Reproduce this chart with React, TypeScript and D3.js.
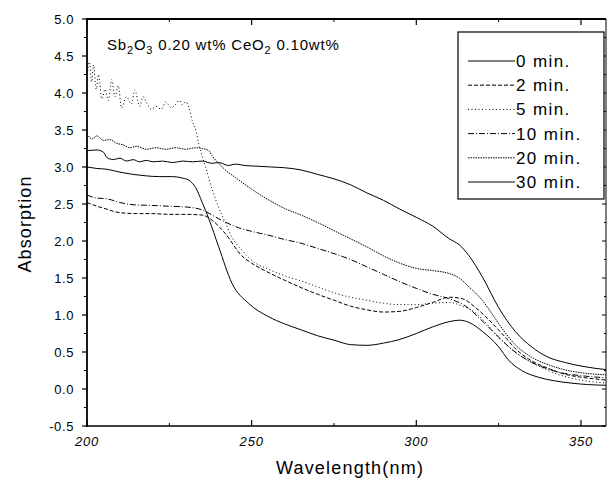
import React from "react";
import * as d3 from "d3";

// --- data (wavelength nm, absorption) ---
const min0: [number, number][] = [
  [200, 3.0], [203, 2.98], [206, 2.97], [210, 2.93], [214, 2.9], [218, 2.88], [222, 2.87],
  [226, 2.87], [229, 2.85], [231, 2.82], [233, 2.72], [235, 2.52], [237, 2.3], [240, 1.92],
  [244, 1.43], [249, 1.16], [255, 0.98], [260, 0.88], [265, 0.8], [270, 0.72], [275, 0.66],
  [280, 0.6], [285, 0.59], [290, 0.62], [295, 0.67], [300, 0.75], [305, 0.84], [310, 0.91],
  [313, 0.93], [316, 0.9], [320, 0.78], [325, 0.57], [328, 0.39], [332, 0.25], [337, 0.16],
  [342, 0.11], [347, 0.08], [352, 0.06], [358, 0.05],
];
const min2: [number, number][] = [
  [200, 2.52], [203, 2.47], [206, 2.43], [209, 2.39], [215, 2.37], [220, 2.37], [225, 2.36],
  [230, 2.36], [235, 2.35], [238, 2.28], [242, 2.1], [247, 1.8], [250, 1.7], [254, 1.6],
  [260, 1.47], [265, 1.37], [270, 1.28], [275, 1.2], [280, 1.12], [285, 1.07], [290, 1.04],
  [295, 1.05], [300, 1.1], [305, 1.17], [310, 1.24], [314, 1.22], [318, 1.1], [323, 0.89],
  [327, 0.7], [330, 0.55], [335, 0.38], [340, 0.28], [345, 0.2], [350, 0.16], [358, 0.12],
];
const min5: [number, number][] = [
  [200, 4.2], [200.7, 4.42], [201.4, 4.15], [202, 4.38], [202.8, 4.05], [203.5, 4.25],
  [204.5, 3.92], [205.5, 4.05], [206.5, 3.9], [207.5, 4.18], [208.5, 3.95], [209.5, 4.1],
  [210.5, 3.8], [212, 3.95], [213.5, 3.85], [214.5, 4.04], [216, 3.82], [217, 3.95],
  [218, 3.88], [219.5, 3.78], [221, 3.82], [222.5, 3.78], [224, 3.88], [225.5, 3.8],
  [227, 3.85], [228, 3.9], [229, 3.84], [230, 3.88], [231, 3.8], [232, 3.62], [233, 3.5],
  [234, 3.3], [236, 3.0], [238, 2.7], [240, 2.45], [242, 2.25], [244, 2.05], [247, 1.88],
  [250, 1.74], [255, 1.62], [260, 1.53], [265, 1.46], [270, 1.38], [275, 1.3], [280, 1.24],
  [285, 1.2], [290, 1.16], [295, 1.14], [300, 1.14], [305, 1.16], [310, 1.17], [314, 1.12],
  [318, 1.03], [322, 0.85], [325, 0.7], [330, 0.5], [335, 0.36], [340, 0.25], [345, 0.17],
  [350, 0.12], [358, 0.08],
];
const min10: [number, number][] = [
  [200, 2.62], [203, 2.58], [206, 2.57], [210, 2.52], [214, 2.49], [220, 2.48], [225, 2.47],
  [230, 2.46], [235, 2.42], [240, 2.3], [246, 2.18], [250, 2.13], [255, 2.08], [260, 2.02],
  [265, 1.97], [270, 1.9], [275, 1.83], [280, 1.75], [285, 1.65], [290, 1.55], [295, 1.45],
  [300, 1.36], [305, 1.28], [310, 1.22], [315, 1.12], [320, 0.92], [325, 0.7], [330, 0.5],
  [335, 0.36], [340, 0.27], [345, 0.21], [350, 0.18], [358, 0.15],
];
const min20: [number, number][] = [
  [200, 3.45], [201.5, 3.38], [203, 3.42], [205, 3.36], [207, 3.37], [209, 3.32], [211, 3.3],
  [213, 3.26], [215, 3.28], [218, 3.24], [221, 3.26], [224, 3.24], [227, 3.26], [230, 3.24],
  [233, 3.26], [235, 3.25], [237, 3.22], [238, 3.15], [240, 3.05], [242, 2.96], [245, 2.86],
  [250, 2.7], [255, 2.56], [260, 2.44], [265, 2.35], [270, 2.25], [275, 2.14], [280, 2.03],
  [285, 1.92], [290, 1.8], [295, 1.7], [300, 1.63], [305, 1.6], [310, 1.56], [313, 1.5],
  [316, 1.38], [320, 1.2], [324, 0.95], [327, 0.76], [330, 0.6], [335, 0.43], [340, 0.33],
  [345, 0.26], [350, 0.22], [358, 0.19],
];
const min30: [number, number][] = [
  [200, 3.22], [203, 3.23], [205, 3.2], [206, 3.13], [208, 3.1], [210, 3.12], [212, 3.08],
  [214, 3.1], [216, 3.07], [218, 3.09], [220, 3.07], [223, 3.08], [226, 3.06], [229, 3.08],
  [232, 3.07], [235, 3.08], [238, 3.05], [240, 3.06], [243, 3.02], [245, 3.04], [248, 3.02],
  [252, 3.01], [256, 3.0], [260, 2.99], [265, 2.96], [270, 2.9], [275, 2.84], [280, 2.76],
  [285, 2.65], [290, 2.55], [295, 2.43], [300, 2.32], [305, 2.2], [310, 2.03], [313, 1.95],
  [316, 1.8], [320, 1.52], [325, 1.1], [330, 0.78], [335, 0.57], [340, 0.43], [345, 0.36],
  [350, 0.31], [358, 0.26],
];

const seriesNames = ["0 min.", "2 min.", "5 min.", "10 min.", "20 min.", "30 min."];
const seriesData = [min0, min2, min5, min10, min20, min30];
const seriesDash = ["", "4,2", "1,2.5", "6,2,1,2", "1.5,1", ""];

const xTicks = [200, 250, 300, 350];
const xMinor = [225, 275, 325];
const yTicks = [-0.5, 0, 0.5, 1, 1.5, 2, 2.5, 3, 3.5, 4, 4.5, 5];

const W = 607;
const H = 479;
const L = 87;
const R = 606;
const T = 19;
const B = 426;
const font = "'Liberation Sans', Arial, sans-serif";

export default function App() {
  const x = d3.scaleLinear().domain([200, 357.6]).range([L, R]);
  const y = d3.scaleLinear().domain([-0.5, 5]).range([B, T]);
  const line = d3
    .line<[number, number]>()
    .x((d) => x(d[0]))
    .y((d) => y(d[1]))
    .curve(d3.curveMonotoneX);

  const yMinor = d3.range(-0.25, 5, 0.5);
  const legendRows = seriesNames.map((_, i) => 61 + i * 24.2);

  return (
    <svg
      width={W}
      height={H}
      style={{ position: "absolute", left: 0, top: 0, background: "#fff" }}
    >
      <rect width={W} height={H} fill="#fff" />
      <defs>
        <clipPath id="plot">
          <rect x={L} y={T} width={R - L} height={B - T} />
        </clipPath>
      </defs>

      {/* curves */}
      <g clipPath="url(#plot)">
        {seriesData.map((d, i) => (
          <path
            key={i}
            d={line(d) || ""}
            fill="none"
            stroke="#000"
            strokeWidth={1}
            strokeDasharray={seriesDash[i]}
          />
        ))}
      </g>

      {/* frame */}
      <line x1={L} x2={R} y1={T} y2={T} stroke="#000" strokeWidth={2} />
      <line x1={L} x2={R} y1={B} y2={B} stroke="#000" strokeWidth={1.6} />
      <line x1={L} x2={L} y1={T - 1} y2={B + 1} stroke="#000" strokeWidth={1.8} />
      <line x1={R} x2={R} y1={T} y2={B} stroke="#000" strokeWidth={1} />

      {/* y ticks */}
      {yTicks.map((t) => (
        <g key={t}>
          <line x1={L - 5} x2={L} y1={y(t)} y2={y(t)} stroke="#000" strokeWidth={1.2} />
          <line x1={R - 4} x2={R} y1={y(t)} y2={y(t)} stroke="#000" strokeWidth={1} />
          <text
            x={74}
            y={y(t)}
            dy="0.35em"
            textAnchor="end"
            fontFamily={font}
            fontSize={13}
            letterSpacing={0.6}
          >
            {t.toFixed(1)}
          </text>
        </g>
      ))}
      {yMinor.map((t) => (
        <g key={t}>
          <line x1={L - 3} x2={L} y1={y(t)} y2={y(t)} stroke="#000" strokeWidth={1} />
          <line x1={R - 2} x2={R} y1={y(t)} y2={y(t)} stroke="#000" strokeWidth={1} />
        </g>
      ))}

      {/* x ticks */}
      {xTicks.map((t) => (
        <g key={t}>
          <line x1={x(t)} x2={x(t)} y1={B} y2={B - 6} stroke="#000" strokeWidth={1.2} />
          <line x1={x(t)} x2={x(t)} y1={T} y2={T + 6} stroke="#000" strokeWidth={1.2} />
          <text
            x={x(t)}
            y={446}
            textAnchor="middle"
            fontFamily={font}
            fontSize={13}
            fontStyle="italic"
            letterSpacing={0.8}
          >
            {t}
          </text>
        </g>
      ))}
      {xMinor.map((t) => (
        <g key={t}>
          <line x1={x(t)} x2={x(t)} y1={B} y2={B - 3} stroke="#000" strokeWidth={1} />
          <line x1={x(t)} x2={x(t)} y1={T} y2={T + 3} stroke="#000" strokeWidth={1} />
        </g>
      ))}

      {/* axis titles */}
      <text
        x={350}
        y={474}
        textAnchor="middle"
        fontFamily={font}
        fontSize={18}
        letterSpacing={1.2}
      >
        Wavelength(nm)
      </text>
      <text
        transform="translate(31,224) rotate(-90)"
        textAnchor="middle"
        fontFamily={font}
        fontSize={18}
        letterSpacing={1.1}
      >
        Absorption
      </text>

      {/* annotation */}
      <text x={107} y={50} fontFamily={font} fontSize={15} letterSpacing={0.8}>
        Sb<tspan dy={4} fontSize={11}>2</tspan>
        <tspan dy={-4}>O</tspan>
        <tspan dy={4} fontSize={11}>3</tspan>
        <tspan dy={-4}> 0.20 wt% CeO</tspan>
        <tspan dy={4} fontSize={11}>2</tspan>
        <tspan dy={-4}> 0.10wt%</tspan>
      </text>

      {/* legend */}
      <rect x={458} y={32} width={146} height={167} fill="#fff" stroke="#000" strokeWidth={1.2} />
      {seriesNames.map((name, i) => (
        <g key={name}>
          <line
            x1={468}
            x2={515}
            y1={legendRows[i]}
            y2={legendRows[i]}
            stroke="#000"
            strokeWidth={1}
            strokeDasharray={seriesDash[i]}
          />
          <text
            x={516}
            y={legendRows[i]}
            dy="0.35em"
            fontFamily={font}
            fontSize={17}
            letterSpacing={1.4}
          >
            {name}
          </text>
        </g>
      ))}
    </svg>
  );
}
